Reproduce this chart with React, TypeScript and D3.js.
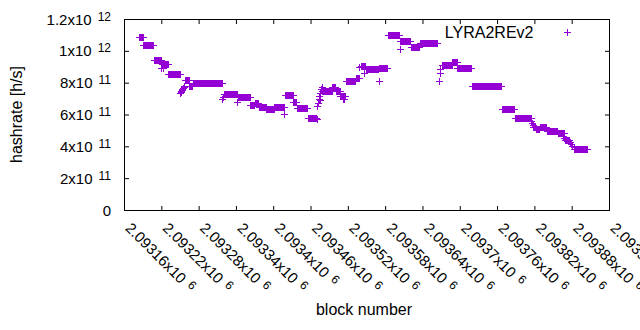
import React, { useEffect, useRef } from 'react';
import * as d3 from 'd3';

// runs of consecutive blocks sharing the same hashrate (difficulty period)
const runStart = [
  2093184, 2093191, 2093208, 2093221, 2093231, 2093258, 2093265, 2093271, 2093321, 2093343,
  2093363, 2093370, 2093377, 2093389, 2093402, 2093419, 2093432, 2093438, 2093456, 2093479,
  2093495, 2093501, 2093508, 2093517, 2093533, 2093541, 2093549, 2093570, 2093585, 2093604,
  2093621, 2093636, 2093672, 2093688, 2093696, 2093720, 2093768, 2093789, 2093818, 2093822,
  2093829, 2093840, 2093858, 2093869, 2093884,
];
const runEnd = [
  2093190, 2093207, 2093219, 2093230, 2093250, 2093264, 2093270, 2093317, 2093342, 2093362,
  2093369, 2093376, 2093388, 2093401, 2093417, 2093431, 2093437, 2093455, 2093469, 2093494,
  2093500, 2093507, 2093515, 2093532, 2093538, 2093548, 2093569, 2093583, 2093603, 2093620,
  2093635, 2093664, 2093687, 2093695, 2093718, 2093767, 2093788, 2093814, 2093821, 2093828,
  2093839, 2093857, 2093867, 2093876, 2093904,
];
const runValue = [
  10.85e11, 10.35e11, 9.42e11, 9.15e11, 8.52e11, 8.15e11, 7.76e11, 7.96e11, 7.27e11, 7.08e11,
  6.62e11, 6.7e11, 6.49e11, 6.33e11, 6.45e11, 7.2e11, 6.8e11, 6.4e11, 5.78e11, 7.5e11,
  7.72e11, 7.5e11, 7.14e11, 8.08e11, 8.3e11, 9.05e11, 8.86e11, 8.92e11, 10.97e11, 10.63e11,
  10.22e11, 10.47e11, 9.09e11, 9.3e11, 8.92e11, 7.77e11, 6.34e11, 5.76e11, 5.19e11, 5.1e11,
  5.19e11, 4.94e11, 4.82e11, 4.4e11, 3.81e11,
];

// single blocks off the plateaus
const pointBlock = [
  2093220, 2093222, 2093250, 2093251, 2093252, 2093253, 2093254, 2093255, 2093256, 2093257,
  2093318, 2093320, 2093342, 2093417, 2093470, 2093471, 2093472, 2093473, 2093474, 2093475,
  2093476, 2093477, 2093478, 2093512, 2093514, 2093538, 2093546, 2093570, 2093604, 2093667,
  2093668, 2093669, 2093815, 2093816, 2093817, 2093866, 2093868, 2093877, 2093879, 2093881,
  2093883,
];
const pointValue = [
  8.9e11, 8.95e11, 7.38e11, 7.42e11, 7.48e11, 7.53e11, 7.6e11, 7.66e11, 7.72e11, 7.8e11,
  6.95e11, 7.1e11, 6.77e11, 6.03e11, 5.7e11, 6.55e11, 6.75e11, 7.0e11, 7.18e11, 6.9e11,
  7.35e11, 7.6e11, 7.75e11, 6.95e11, 7.0e11, 8.96e11, 8.59e11, 8.08e11, 10.1e11, 8.12e11,
  8.6e11, 8.85e11, 5.6e11, 5.45e11, 5.35e11, 4.65e11, 4.55e11, 4.25e11, 4.15e11, 4.05e11,
  3.95e11,
];

const xTicks = [
  2093160, 2093220, 2093280, 2093340, 2093400, 2093460, 2093520, 2093580,
  2093640, 2093700, 2093760, 2093820, 2093880, 2093940,
];
const xTickLabels = [
  '2.09316x10^6', '2.09322x10^6', '2.09328x10^6', '2.09334x10^6', '2.0934x10^6',
  '2.09346x10^6', '2.09352x10^6', '2.09358x10^6', '2.09364x10^6', '2.0937x10^6',
  '2.09376x10^6', '2.09382x10^6', '2.09388x10^6', '2.09394x10^6',
];
const yTicks = [0, 2e11, 4e11, 6e11, 8e11, 1e12, 1.2e12];
const yTickLabels = ['0', '2x10^11', '4x10^11', '6x10^11', '8x10^11', '1x10^12', '1.2x10^12'];

const seriesName = 'LYRA2REv2';
const color = '#9400d3';
const font = '"Liberation Sans", Arial, sans-serif';

const App = () => {
  const svgRef = useRef<SVGSVGElement>(null);

  useEffect(() => {
    if (!svgRef.current) return;
    const width = 640;
    const height = 330;
    const margin = { top: 19.5, right: 30.5, bottom: 119.5, left: 124.5 };

    const svg = d3.select(svgRef.current);
    svg.selectAll('*').remove();
    svg.append('rect').attr('width', width).attr('height', height).attr('fill', '#fff');

    const x = d3.scaleLinear().domain([2093160, 2093940]).range([margin.left, width - margin.right]);
    const y = d3.scaleLinear().domain([0, 1.2e12]).range([height - margin.bottom, margin.top]);
    const x0 = margin.left, x1 = width - margin.right;
    const y0 = height - margin.bottom, y1 = margin.top;
    const tick = 4.5;

    const addText = (sel, label, supSize) => {
      const [base, exp] = label.split('^');
      sel.append('tspan').text(base);
      if (exp) sel.append('tspan').attr('dx', 6).attr('dy', -4).attr('font-size', supSize).text(exp);
    };

    // ticks (mirrored, inward)
    const axes = svg.append('g').attr('stroke', '#000').attr('stroke-width', 1);
    yTicks.forEach(t => {
      const yy = y(t);
      axes.append('line').attr('x1', x0).attr('x2', x0 + tick).attr('y1', yy).attr('y2', yy);
      axes.append('line').attr('x1', x1).attr('x2', x1 - tick).attr('y1', yy).attr('y2', yy);
    });
    xTicks.forEach(t => {
      const xx = x(t);
      axes.append('line').attr('x1', xx).attr('x2', xx).attr('y1', y0).attr('y2', y0 - tick);
      axes.append('line').attr('x1', xx).attr('x2', xx).attr('y1', y1).attr('y2', y1 + tick);
    });

    // tick labels
    yTicks.forEach((t, i) => {
      const txt = svg.append('text')
        .attr('x', 111).attr('y', y(t) + 5)
        .attr('text-anchor', 'end').attr('font-family', font).attr('font-size', 15).attr('fill', '#000');
      addText(txt, yTickLabels[i], 12);
    });
    xTicks.forEach((t, i) => {
      const txt = svg.append('text')
        .attr('transform', `translate(${x(t)},229) rotate(45)`)
        .attr('text-anchor', 'start').attr('font-family', font).attr('font-size', 15).attr('fill', '#000');
      addText(txt, xTickLabels[i], 12);
    });

    // data
    const marks = svg.append('g').attr('shape-rendering', 'crispEdges');
    runStart.forEach((s, i) => {
      const xs = x(s), xe = x(runEnd[i]), yy = y(runValue[i]);
      marks.append('rect').attr('x', xs - 0.5).attr('y', yy - 3.5)
        .attr('width', xe - xs + 1).attr('height', 7).attr('fill', color);
      marks.append('line').attr('x1', xs - 3.5).attr('x2', xe + 3.5).attr('y1', yy).attr('y2', yy)
        .attr('stroke', color).attr('stroke-width', 1);
    });
    const plus = (px, py) => `M${px - 3.5},${py}H${px + 3.5}M${px},${py - 3.5}V${py + 3.5}`;
    marks.selectAll('.pt').data(pointBlock).join('path')
      .attr('class', 'pt')
      .attr('d', (b, i) => plus(x(b), y(pointValue[i])))
      .attr('stroke', color).attr('stroke-width', 1).attr('fill', 'none');

    // border
    svg.append('rect').attr('x', x0).attr('y', y1).attr('width', x1 - x0).attr('height', y0 - y1)
      .attr('fill', 'none').attr('stroke', '#000').attr('stroke-width', 1);

    // legend
    svg.append('text').attr('x', 533.5).attr('y', 37.5).attr('text-anchor', 'end')
      .attr('font-family', font).attr('font-size', 16).attr('fill', '#000').text(seriesName);
    marks.append('path').attr('d', plus(567.5, 32.5)).attr('stroke', color).attr('fill', 'none');

    // axis titles
    svg.append('text').attr('transform', 'translate(22,114.5) rotate(-90)').attr('text-anchor', 'middle')
      .attr('font-family', font).attr('font-size', 16).attr('fill', '#000').text('hashrate [h/s]');
    svg.append('text').attr('x', 364).attr('y', 315).attr('text-anchor', 'middle')
      .attr('font-family', font).attr('font-size', 16).attr('fill', '#000').text('block number');
  }, []);

  return (
    <svg ref={svgRef} width={640} height={330} style={{ position: 'absolute', left: 0, top: 0, display: 'block' }} />
  );
};

export default App;
